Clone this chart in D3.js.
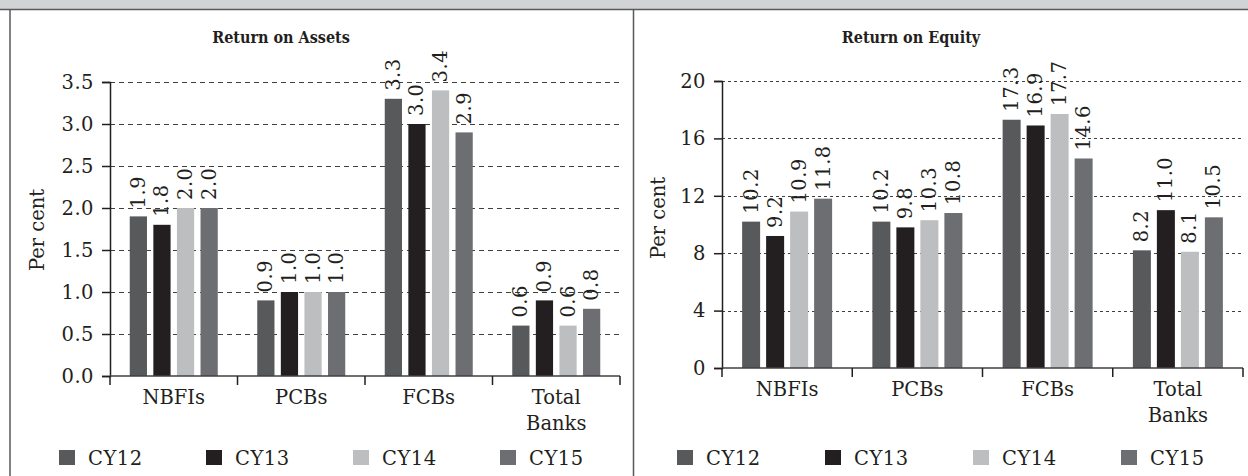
<!DOCTYPE html>
<html><head><meta charset="utf-8">
<script src="https://cdn.jsdelivr.net/npm/d3@7"></script>
<style>
html,body{margin:0;padding:0;background:#fff;}
svg text{font-family:"DejaVu Serif",serif;fill:#231f20;}
</style></head>
<body><svg id="c" width="1248" height="476"></svg>
<script>
const categories = ["NBFIs","PCBs","FCBs","Total Banks"];
const series = ["CY12","CY13","CY14","CY15"];
const roa = [[1.9,0.9,3.3,0.6],[1.8,1.0,3.0,0.9],[2.0,1.0,3.4,0.6],[2.0,1.0,2.9,0.8]];
const roe = [[10.2,10.2,17.3,8.2],[9.2,9.8,16.9,11.0],[10.9,10.3,17.7,8.1],[11.8,10.8,14.6,10.5]];
const roaTicks = [0,0.5,1.0,1.5,2.0,2.5,3.0,3.5];
const roeTicks = [0,4,8,12,16,20];
const colors = ["#58595b","#231f20","#bcbec0","#6d6e71"];

const svg = d3.select("#c");
svg.append("rect").attr("x",0).attr("y",0).attr("width",1248).attr("height",9).attr("fill","#d1d3d4");
svg.append("line").attr("x1",0).attr("x2",1248).attr("y1",9.5).attr("y2",9.5).attr("stroke","#58595b").attr("stroke-width",1.5);
svg.append("line").attr("x1",10).attr("x2",10).attr("y1",9.5).attr("y2",476).attr("stroke","#58595b").attr("stroke-width",1.5);
svg.append("line").attr("x1",633.5).attr("x2",633.5).attr("y1",9.5).attr("y2",476).attr("stroke","#58595b").attr("stroke-width",1.5);

const FS = 19.5;
function panel(o){
  const g = svg.append("g");
  const y = d3.scaleLinear().domain([0,o.max]).range([o.y0,o.y1]);
  const x = d3.scaleBand().domain(categories).range([o.x0,o.x1]);
  const inner = d3.scaleBand().domain(series).range([0,o.groupW]).paddingInner(o.pin);
  g.append("text").attr("x",o.tx).attr("y",43).attr("text-anchor","middle")
   .attr("font-weight","bold").attr("font-size",16).style("font-family","'DejaVu Serif Condensed','DejaVu Serif',serif")
   .style("font-stretch","condensed").text(o.title);
  g.append("text").attr("transform",`translate(${o.lx},${o.ly}) rotate(-90)`)
   .attr("text-anchor","middle").attr("dominant-baseline","central").attr("font-size",FS).text("Per cent");
  g.selectAll(".grid").data(o.ticks.filter(d=>d>0)).join("line")
   .attr("x1",o.x0).attr("x2",o.x1).attr("y1",d=>Math.round(y(d))+0.5).attr("y2",d=>Math.round(y(d))+0.5)
   .attr("stroke","#404041").attr("stroke-width",1).attr("stroke-dasharray",o.dash);
  const ya = g.append("g").attr("transform",`translate(${o.x0},0)`)
   .call(d3.axisLeft(y).tickValues(o.ticks).tickFormat(o.fmt).tickSize(8).tickPadding(8));
  ya.select(".domain").attr("stroke","#231f20").attr("stroke-width",1.5);
  ya.selectAll(".tick line").attr("stroke","#231f20").attr("stroke-width",1.5);
  ya.selectAll(".tick text").attr("font-family","DejaVu Serif").attr("font-size",FS).attr("fill","#231f20").attr("letter-spacing","0.5px");
  categories.forEach((c,ci)=>{
    const gx = x(c) + (x.bandwidth()-o.groupW)/2;
    series.forEach((s,si)=>{
      const v = o.data[si][ci];
      g.append("rect").attr("x",gx+inner(s)).attr("y",y(v)).attr("width",inner.bandwidth())
       .attr("height",y(0)-y(v)).attr("fill",colors[si]);
      g.append("text").attr("transform",`translate(${gx+inner(s)+inner.bandwidth()/2},${y(v)-8}) rotate(-90)`)
       .attr("dominant-baseline","central").attr("font-size",FS).attr("letter-spacing","0.5px").text(d3.format(".1f")(v));
    });
  });
  g.append("line").attr("x1",o.x0).attr("x2",o.x1).attr("y1",y(0)).attr("y2",y(0)).attr("stroke","#414042").attr("stroke-width",1.5);
  const edges = categories.map(c=>x(c)).concat([o.x1]);
  g.selectAll(".xt").data(edges).join("line").attr("x1",d=>d).attr("x2",d=>d)
   .attr("y1",y(0)).attr("y2",y(0)+9).attr("stroke","#231f20").attr("stroke-width",1.5);
  categories.forEach(c=>{
    const t = g.append("text").attr("x",x(c)+x.bandwidth()/2).attr("y",y(0)+28).attr("text-anchor","middle").attr("font-size",FS);
    c.split(" ").forEach((w,i)=>t.append("tspan").attr("x",x(c)+x.bandwidth()/2).attr("dy",i?26:0).text(w));
  });
  series.forEach((s,i)=>{
    const lx = o.legX + i*o.legStep;
    g.append("rect").attr("x",lx).attr("y",450).attr("width",16).attr("height",15).attr("fill",colors[i]);
    g.append("text").attr("x",lx+29).attr("y",465).attr("font-size",FS).attr("letter-spacing","0.5px").text(s);
  });
}

panel({title:"Return on Assets",data:roa,max:3.5,ticks:roaTicks,fmt:d3.format(".1f"),
  x0:110,x1:620,y0:376,y1:82,groupW:88,pin:0.27,tx:281,lx:37,ly:230,dash:"5,4",
  legX:59,legStep:147});
panel({title:"Return on Equity",data:roe,max:20,ticks:roeTicks,fmt:d3.format("d"),
  x0:722,x1:1243,y0:368,y1:81,groupW:90,pin:0.25,tx:911,lx:658,ly:218,dash:"3,3",
  legX:677,legStep:148});
</script></body></html>
